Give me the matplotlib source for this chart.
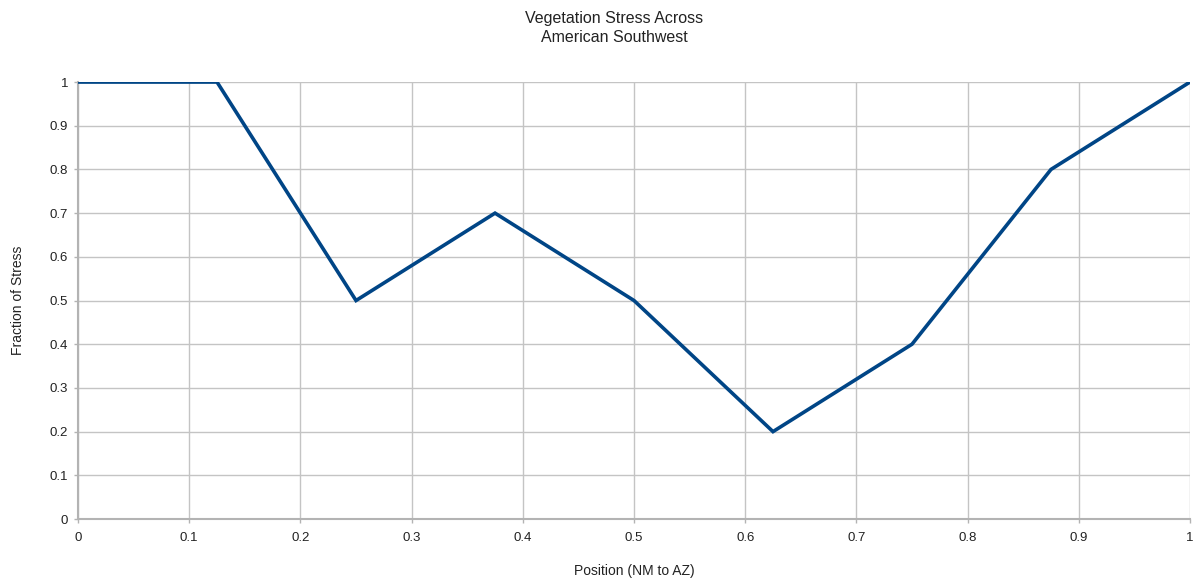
import matplotlib
matplotlib.use("Agg")
import matplotlib.pyplot as plt

plt.rcParams['font.family'] = ['Liberation Sans', 'DejaVu Sans']

position = [0, 0.125, 0.25, 0.375, 0.5, 0.625, 0.75, 0.875, 1.0]
stress = [1, 1, 0.5, 0.7, 0.5, 0.2, 0.4, 0.8, 1.0]
xticks = [0, 0.1, 0.2, 0.3, 0.4, 0.5, 0.6, 0.7, 0.8, 0.9, 1]
yticks = [0, 0.1, 0.2, 0.3, 0.4, 0.5, 0.6, 0.7, 0.8, 0.9, 1]
tick_labels = ['0', '0.1', '0.2', '0.3', '0.4', '0.5', '0.6', '0.7', '0.8', '0.9', '1']

fig = plt.figure(figsize=(11.95, 5.86), dpi=100)
ax = fig.add_axes([0.0653, 0.1143, 0.9305, 0.7457])

grid_c = '#c4c4c4'
ax.plot(position, stress, color='#004586', linewidth=2.6, solid_joinstyle='miter', zorder=3)
ax.set_xlim(0, 1)
ax.set_ylim(0, 1)
ax.set_xticks(xticks)
ax.set_xticklabels(tick_labels)
ax.set_yticks(yticks)
ax.set_yticklabels(tick_labels)
ax.grid(True, color=grid_c, linewidth=1.0)
for s in ['top', 'right']:
    ax.spines[s].set_visible(False)
for s in ['left', 'bottom']:
    ax.spines[s].set_color('#b3b3b3')
    ax.spines[s].set_linewidth(1.5)
ax.tick_params(axis='both', colors='#b3b3b3', labelcolor='#222222', labelsize=9.5, length=3, width=1.0)
ax.tick_params(axis='x', pad=6)
ax.tick_params(axis='y', pad=4)

ax.set_xlabel('Position (NM to AZ)', fontsize=10, color='#222222', labelpad=15)
ax.set_ylabel('Fraction of Stress', fontsize=10, color='#222222', labelpad=18)
fig.text(0.514, 0.952, 'Vegetation Stress Across\nAmerican Southwest', ha='center', va='center',
         fontsize=11.5, color='#222222', linespacing=1.3)

fig.savefig('out.png', dpi=100)
